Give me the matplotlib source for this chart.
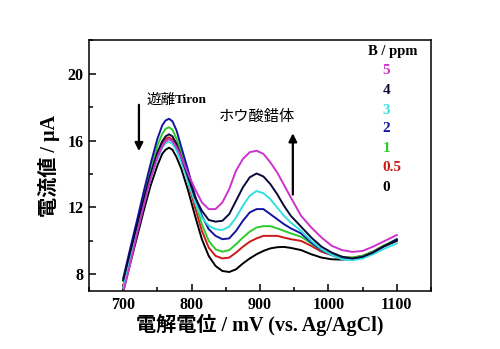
import matplotlib.pyplot as plt
from matplotlib.ticker import MultipleLocator

plt.rcParams['font.family'] = ['Liberation Serif', 'Noto Sans CJK JP']

# potential grid (mV) and current curves (uA)
potential = [700, 710, 720, 730, 740, 750, 757, 762, 767, 772, 778, 785, 795, 805,
             815, 825, 835, 845, 855, 865, 875, 885, 895, 905, 915, 925, 935, 945,
             960, 975, 990, 1005, 1020, 1035, 1050, 1065, 1080, 1100]

conc_labels = ['0', '0.5', '1', '2', '3', '4', '5']
colors = ['#000000', '#cc1a1a', '#2ccc2c', '#1414a0', '#33e0e0', '#0a0a3a', '#cc33cc']

cur_0 = [7.0, 8.6, 10.2, 11.8, 13.3, 14.5, 15.2, 15.45, 15.57, 15.45,
         15.0, 14.3, 13.0, 11.5, 10.1, 9.1, 8.5, 8.2, 8.14, 8.3,
         8.65, 8.95, 9.2, 9.4, 9.55, 9.62, 9.64, 9.58, 9.45, 9.2,
         9.0, 8.9, 8.88, 8.95, 9.1, 9.35, 9.65, 10.0]
cur_05 = [7.3, 9.0, 10.7, 12.4, 14.0, 15.2, 15.85, 16.1, 16.19, 16.05,
          15.6, 14.9, 13.5, 12.0, 10.6, 9.6, 9.1, 8.95, 9.0, 9.3,
          9.65, 9.95, 10.15, 10.3, 10.3, 10.3, 10.2, 10.1, 10.0, 9.7,
          9.35, 9.15, 9.0, 9.0, 9.1, 9.35, 9.7, 10.05]
cur_1 = [7.6, 9.3, 11.0, 12.7, 14.3, 15.7, 16.4, 16.7, 16.79, 16.65,
         16.1, 15.3, 13.9, 12.4, 11.0, 10.0, 9.5, 9.35, 9.45, 9.8,
         10.2, 10.55, 10.8, 10.88, 10.88, 10.75, 10.6, 10.45, 10.25, 9.85,
         9.45, 9.2, 9.05, 9.0, 9.1, 9.35, 9.7, 10.1]
cur_2 = [7.75, 9.5, 11.2, 12.95, 14.6, 16.1, 16.9, 17.2, 17.3, 17.15,
         16.6, 15.6, 14.2, 12.7, 11.5, 10.7, 10.3, 10.1, 10.15, 10.6,
         11.2, 11.7, 11.9, 11.9, 11.6, 11.3, 11.0, 10.75, 10.45, 9.9,
         9.45, 9.15, 8.92, 8.88, 9.0, 9.3, 9.65, 10.1]
cur_3 = [7.2, 8.9, 10.6, 12.2, 13.7, 14.9, 15.55, 15.85, 15.93, 15.8,
         15.4, 14.7, 13.5, 12.3, 11.4, 10.9, 10.7, 10.65, 10.85, 11.4,
         12.1, 12.7, 12.98, 12.85, 12.5, 12.0, 11.5, 11.1, 10.6, 10.0,
         9.5, 9.15, 8.9, 8.85, 8.95, 9.2, 9.5, 9.85]
cur_4 = [7.65, 9.3, 10.9, 12.5, 14.0, 15.3, 15.95, 16.25, 16.37, 16.25,
         15.8, 15.0, 13.8, 12.6, 11.8, 11.25, 11.15, 11.2, 11.6, 12.4,
         13.2, 13.8, 14.03, 13.85, 13.4, 12.8, 12.1, 11.5, 10.85, 10.2,
         9.65, 9.3, 9.05, 8.95, 9.05, 9.3, 9.65, 10.05]
cur_5 = [6.9, 8.6, 10.4, 12.1, 13.7, 15.0, 15.65, 15.95, 16.09, 15.95,
         15.6, 15.0, 14.0, 13.1, 12.3, 11.9, 11.9, 12.3, 13.1, 14.2,
         14.9, 15.3, 15.39, 15.2, 14.7, 14.1, 13.35, 12.6, 11.5, 10.8,
         10.2, 9.7, 9.45, 9.34, 9.4, 9.65, 9.95, 10.35]
currents = [cur_0, cur_05, cur_1, cur_2, cur_3, cur_4, cur_5]

fig = plt.figure(figsize=(5, 3.49), dpi=100)
ax = fig.add_axes([0.178, 0.166, 0.684, 0.719])

for cur, col in zip(currents, colors):
    ax.plot(potential, cur, color=col, linewidth=1.4, solid_joinstyle='round')

ax.set_xlim(650, 1150)
ax.set_ylim(7, 22)
ax.xaxis.set_major_locator(MultipleLocator(100))
ax.xaxis.set_minor_locator(MultipleLocator(50))
ax.yaxis.set_major_locator(MultipleLocator(4))
ax.yaxis.set_minor_locator(MultipleLocator(2))
ax.tick_params(which='both', direction='in', top=False, right=False, width=1.1)
ax.tick_params(which='major', length=5, labelsize=11.5, pad=4)
ax.tick_params(which='minor', length=3)
for lab in ax.get_xticklabels() + ax.get_yticklabels():
    lab.set_fontweight('bold')
for sp in ax.spines.values():
    sp.set_linewidth(1.1)

ax.set_xlabel('電解電位 / mV (vs. Ag/AgCl)', fontsize=14.5, fontweight='bold', labelpad=1)
ax.set_ylabel('電流値 / μA', fontsize=14.5, fontweight='bold', labelpad=5)

# legend as coloured text
ax.text(1058, 21.3, 'B / ppm', fontsize=10.5, fontweight='bold', va='center')
legend_y = [20.2, 19.0, 17.8, 16.7, 15.5, 14.4, 13.2]
for lab, col, yy in zip(conc_labels[::-1], colors[::-1], legend_y):
    ax.text(1079, yy, lab, color=col, fontsize=11, fontweight='bold', va='center')

# annotations
ax.annotate('', xy=(723, 15.2), xytext=(723, 18.3),
            arrowprops=dict(arrowstyle='-|>', color='black', lw=1.6, mutation_scale=12))
ax.text(734, 18.4, '遊離', fontsize=10.5, va='center')
ax.text(775, 18.4, 'Tiron', fontsize=9.5, fontweight='bold', va='center')
ax.annotate('', xy=(948, 16.6), xytext=(948, 12.6),
            arrowprops=dict(arrowstyle='-|>', color='black', lw=1.6, mutation_scale=12))
ax.text(895, 17.4, 'ホウ酸錯体', fontsize=11, ha='center', va='center')

fig.savefig('out.png', dpi=100)
